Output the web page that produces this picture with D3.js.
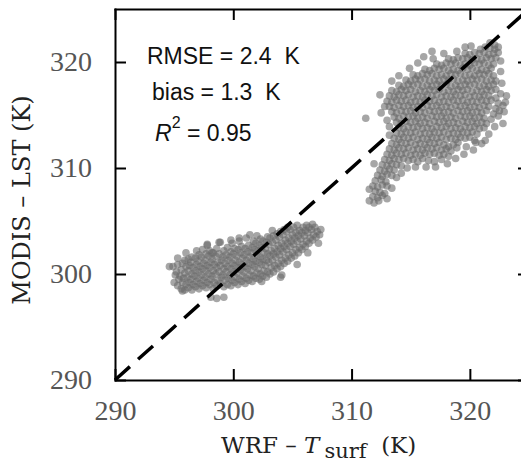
<!DOCTYPE html>
<html>
<head>
<meta charset="utf-8">
<script src="https://cdn.jsdelivr.net/npm/d3@7"></script>
<style>
  body { margin: 0; background: #fff; }
  svg { display: block; }
</style>
</head>
<body>
<div id="graph"></div>
<script>
const width = 521;
const height = 463;

// axis range (K) and ticks
const axisDomain = [290, 325];
const xTicks = [290, 300, 310, 320];
const yTicks = [290, 300, 310, 320];

// statistics printed in the corner
const statLines = [
  { label: "RMSE", value: "2.4  K" },
  { label: "bias", value: "1.3  K" }
];
const r2Value = "0.95";

// [WRF Tsurf, MODIS LST] points, lower (cool) group
const coolPoints = [
  [294.6,300.7],[295.0,299.2],[295.1,299.9],[294.9,300.7],
  [295.3,298.9],[295.4,299.5],[295.2,300.2],[295.3,300.9],
  [295.6,298.6],[295.7,299.2],[295.5,299.8],[295.6,300.4],[295.7,301.0],
  [295.9,298.5],[296.0,299.0],[295.8,299.6],[295.9,300.1],[296.0,300.7],[295.9,301.3],
  [296.2,298.7],[296.3,299.2],[296.1,299.7],[296.2,300.3],[296.3,300.8],[296.2,301.4],
  [296.5,298.5],[296.6,299.0],[296.4,299.5],[296.5,300.0],[296.6,300.6],[296.4,301.1],[296.5,301.6],
  [296.8,298.8],[296.9,299.3],[296.7,299.8],[296.8,300.3],[296.9,300.9],[296.8,301.5],
  [297.1,298.6],[297.2,299.1],[297.0,299.6],[297.1,300.2],[297.2,300.7],[297.0,301.2],[297.1,301.8],
  [297.4,298.9],[297.5,299.4],[297.3,299.9],[297.4,300.5],[297.5,301.0],[297.3,301.6],[297.4,302.3],
  [297.7,298.7],[297.8,299.2],[297.6,299.7],[297.7,300.3],[297.8,300.8],[297.6,301.3],[297.7,301.9],[297.8,302.8],
  [298.0,299.0],[298.1,299.5],[297.9,300.0],[298.0,300.6],[298.1,301.1],[297.9,301.7],[298.0,302.2],
  [298.3,298.6],[298.4,299.2],[298.2,299.8],[298.3,300.3],[298.4,300.9],[298.2,301.4],[298.3,302.0],
  [298.6,297.7],[298.6,298.9],[298.7,299.4],[298.5,300.0],[298.6,300.6],[298.7,301.1],[298.5,301.7],[298.6,302.4],
  [298.9,299.1],[299.0,299.7],[298.8,300.2],[298.9,300.8],[299.0,301.3],[298.8,301.9],[298.9,303.0],
  [299.2,297.8],[299.2,298.8],[299.3,299.4],[299.1,299.9],[299.2,300.5],[299.3,301.0],[299.1,301.6],[299.2,302.2],
  [299.5,299.0],[299.6,299.6],[299.4,300.2],[299.5,300.7],[299.6,301.3],[299.4,301.8],[299.5,302.5],
  [299.8,298.9],[299.9,299.4],[299.7,299.9],[299.8,300.5],[299.9,301.0],[299.7,301.6],[299.8,302.1],[299.9,302.9],
  [300.1,299.2],[300.2,299.7],[300.0,300.2],[300.1,300.8],[300.2,301.3],[300.0,301.9],[300.1,302.4],
  [300.4,299.0],[300.5,299.5],[300.3,300.1],[300.4,300.6],[300.5,301.1],[300.3,301.7],[300.4,302.3],[300.5,303.1],
  [300.7,299.3],[300.8,299.8],[300.6,300.4],[300.7,300.9],[300.8,301.5],[300.6,302.0],[300.7,302.6],
  [301.0,299.1],[301.1,299.6],[300.9,300.2],[301.0,300.7],[301.1,301.3],[300.9,301.8],[301.0,302.4],[301.1,303.4],
  [301.3,299.4],[301.4,299.9],[301.2,300.5],[301.3,301.0],[301.4,301.6],[301.2,302.1],[301.3,302.7],
  [301.6,299.3],[301.7,299.8],[301.5,300.3],[301.6,300.9],[301.7,301.4],[301.5,302.0],[301.6,302.5],[301.7,303.1],
  [301.9,299.6],[302.0,300.1],[301.8,300.7],[301.9,301.2],[302.0,301.8],[301.8,302.3],[301.9,302.9],
  [302.2,299.5],[302.3,300.0],[302.1,300.5],[302.2,301.1],[302.3,301.6],[302.1,302.2],[302.2,302.7],[302.3,303.3],
  [302.5,299.8],[302.6,300.3],[302.4,300.9],[302.5,301.4],[302.6,302.0],[302.4,302.5],[302.5,303.1],
  [302.8,299.7],[302.9,300.2],[302.7,300.8],[302.8,301.3],[302.9,301.9],[302.7,302.4],[302.8,303.0],[302.9,303.5],
  [303.1,300.0],[303.2,300.6],[303.0,301.1],[303.1,301.7],[303.2,302.2],[303.0,302.8],[303.1,303.4],
  [303.4,300.2],[303.5,300.8],[303.3,301.3],[303.4,301.9],[303.5,302.4],[303.3,303.0],[303.4,303.6],
  [303.7,300.5],[303.8,301.0],[303.6,301.6],[303.7,302.1],[303.8,302.7],[303.6,303.2],[303.7,303.8],
  [304.1,299.9],[304.0,300.7],[304.1,301.3],[303.9,301.8],[304.0,302.4],[304.1,302.9],[303.9,303.5],[304.0,304.0],
  [304.3,301.0],[304.4,301.5],[304.2,302.1],[304.3,302.6],[304.4,303.2],[304.2,303.7],[304.3,304.2],
  [304.6,301.2],[304.7,301.8],[304.5,302.3],[304.6,302.9],[304.7,303.4],[304.5,304.0],[304.6,304.4],
  [304.9,301.5],[305.0,302.0],[304.8,302.6],[304.9,303.1],[305.0,303.7],[304.8,304.2],
  [305.2,301.7],[305.3,302.3],[305.1,302.8],[305.2,303.4],[305.3,303.9],[305.1,304.4],
  [305.5,302.0],[305.6,302.5],[305.4,303.1],[305.5,303.6],[305.6,304.1],[305.4,304.6],
  [305.8,302.3],[305.9,302.8],[305.7,303.3],[305.8,303.9],[305.9,304.4],
  [306.1,302.6],[306.2,303.1],[306.0,303.6],[306.1,304.1],[306.2,304.6],
  [306.4,302.9],[306.5,303.4],[306.3,303.9],[306.4,304.4],
  [306.7,303.2],[306.8,303.7],[306.6,304.2],[306.7,304.7],
  [307.0,303.5],[307.1,304.0],[306.9,304.4],
  [307.3,303.7],[307.4,304.2],
  // loose points round the edge of the band
  [295.3,301.5],[296.0,302.0],[296.9,302.2],[297.8,302.7],[298.2,302.0],[298.8,303.0],
  [299.8,303.2],[300.5,303.4],[301.4,303.7],[295.7,298.4],[298.1,297.8],[302.4,299.3],
  [304.0,299.7],[305.4,300.9],[306.3,302.0],[307.2,302.9],[303.3,304.1],[302.0,303.6]
];

// [WRF Tsurf, MODIS LST] points, upper (warm) group
const warmPoints = [
  [321.7,321.8],[322.1,321.6],
  [320.9,321.2],[321.3,321.4],[321.7,321.3],[322.1,321.2],[322.4,321.4],
  [316.1,320.5],[319.6,320.8],[320.0,320.7],[320.4,320.9],[320.8,320.8],[321.2,320.9],[321.6,320.7],[322.0,320.8],[322.4,320.9],
  [318.2,320.3],[318.6,320.2],[319.0,320.4],[319.4,320.3],[319.8,320.4],[320.2,320.2],[320.6,320.3],[321.0,320.2],[321.4,320.4],[321.8,320.3],[322.2,320.4],
  [317.2,319.8],[317.6,319.7],[318.0,319.9],[318.4,319.8],[318.8,319.9],[319.2,319.7],[319.6,319.8],[320.0,319.7],[320.4,319.9],[320.8,319.8],[321.2,319.9],[321.6,319.7],[322.0,319.8],
  [316.2,319.3],[316.6,319.2],[317.0,319.4],[317.4,319.3],[317.8,319.4],[318.2,319.2],[318.6,319.3],[319.0,319.2],[319.4,319.4],[319.8,319.3],[320.2,319.4],[320.6,319.2],[321.0,319.3],[321.4,319.2],[321.8,319.4],
  [315.2,318.8],[315.6,318.7],[316.0,318.9],[316.4,318.8],[316.8,318.9],[317.2,318.7],[317.6,318.8],[318.0,318.7],[318.4,318.9],[318.8,318.8],[319.2,318.9],[319.6,318.7],[320.0,318.8],[320.4,318.7],[320.8,318.9],[321.2,318.8],[321.6,318.9],[322.0,318.7],
  [314.6,318.3],[315.0,318.2],[315.4,318.4],[315.8,318.3],[316.2,318.4],[316.6,318.2],[317.0,318.3],[317.4,318.2],[317.8,318.4],[318.2,318.3],[318.6,318.4],[319.0,318.2],[319.4,318.3],[319.8,318.2],[320.2,318.4],[320.6,318.3],[321.0,318.4],[321.4,318.2],[321.8,318.3],[322.2,318.2],
  [314.0,317.8],[314.4,317.7],[314.8,317.9],[315.2,317.8],[315.6,317.9],[316.0,317.7],[316.4,317.8],[316.8,317.7],[317.2,317.9],[317.6,317.8],[318.0,317.9],[318.4,317.7],[318.8,317.8],[319.2,317.7],[319.6,317.9],[320.0,317.8],[320.4,317.9],[320.8,317.7],[321.2,317.8],[321.6,317.7],[322.0,317.9],
  [313.4,317.3],[313.8,317.2],[314.2,317.4],[314.6,317.3],[315.0,317.4],[315.4,317.2],[315.8,317.3],[316.2,317.2],[316.6,317.4],[317.0,317.3],[317.4,317.4],[317.8,317.2],[318.2,317.3],[318.6,317.2],[319.0,317.4],[319.4,317.3],[319.8,317.4],[320.2,317.2],[320.6,317.3],[321.0,317.2],[321.4,317.4],[321.8,317.3],[322.2,317.4],
  [313.2,316.8],[313.6,316.7],[314.0,316.9],[314.4,316.8],[314.8,316.9],[315.2,316.7],[315.6,316.8],[316.0,316.7],[316.4,316.9],[316.8,316.8],[317.2,316.9],[317.6,316.7],[318.0,316.8],[318.4,316.7],[318.8,316.9],[319.2,316.8],[319.6,316.9],[320.0,316.7],[320.4,316.8],[320.8,316.7],[321.2,316.9],[321.6,316.8],[322.2,316.6],[322.6,317.0],
  [313.0,316.3],[313.4,316.2],[313.8,316.4],[314.2,316.3],[314.6,316.4],[315.0,316.2],[315.4,316.3],[315.8,316.2],[316.2,316.4],[316.6,316.3],[317.0,316.4],[317.4,316.2],[317.8,316.3],[318.2,316.2],[318.6,316.4],[319.0,316.3],[319.4,316.4],[319.8,316.2],[320.2,316.3],[320.6,316.2],[321.0,316.4],[321.4,316.3],[321.8,316.4],[322.4,316.1],[323.0,316.2],
  [312.8,315.8],[313.2,315.8],[313.6,315.7],[314.0,315.9],[314.4,315.8],[314.8,315.9],[315.2,315.7],[315.6,315.8],[316.0,315.7],[316.4,315.9],[316.8,315.8],[317.2,315.9],[317.6,315.7],[318.0,315.8],[318.4,315.7],[318.8,315.9],[319.2,315.8],[319.6,315.9],[320.0,315.7],[320.4,315.8],[320.8,315.7],[321.2,315.9],[321.6,315.8],[322.2,315.6],[322.8,315.9],
  [313.4,315.3],[313.8,315.2],[314.2,315.4],[314.6,315.3],[315.0,315.4],[315.4,315.2],[315.8,315.3],[316.2,315.2],[316.6,315.4],[317.0,315.3],[317.4,315.4],[317.8,315.2],[318.2,315.3],[318.6,315.2],[319.0,315.4],[319.4,315.3],[319.8,315.4],[320.2,315.2],[320.6,315.3],[321.0,315.2],[321.4,315.4],[322.0,315.1],[322.5,315.4],
  [311.2,314.7],[313.6,314.8],[314.0,314.7],[314.4,314.9],[314.8,314.8],[315.2,314.9],[315.6,314.7],[316.0,314.8],[316.4,314.7],[316.8,314.9],[317.2,314.8],[317.6,314.9],[318.0,314.7],[318.4,314.8],[318.8,314.7],[319.2,314.9],[319.6,314.8],[320.0,314.9],[320.4,314.7],[320.8,314.8],[321.2,314.7],[321.8,314.6],[322.4,314.9],
  [313.8,314.3],[314.2,314.2],[314.6,314.4],[315.0,314.3],[315.4,314.4],[315.8,314.2],[316.2,314.3],[316.6,314.2],[317.0,314.4],[317.4,314.3],[317.8,314.4],[318.2,314.2],[318.6,314.3],[319.0,314.2],[319.4,314.4],[319.8,314.3],[320.2,314.4],[320.6,314.2],[321.0,314.3],[321.4,314.2],
  [314.0,313.8],[314.4,313.7],[314.8,313.9],[315.2,313.8],[315.6,313.9],[316.0,313.7],[316.4,313.8],[316.8,313.7],[317.2,313.9],[317.6,313.8],[318.0,313.9],[318.4,313.7],[318.8,313.8],[319.2,313.7],[319.6,313.9],[320.0,313.8],[320.4,313.9],[320.8,313.7],[321.2,313.8],
  [313.8,313.3],[314.2,313.2],[314.6,313.4],[315.0,313.3],[315.4,313.4],[315.8,313.2],[316.2,313.3],[316.6,313.2],[317.0,313.4],[317.4,313.3],[317.8,313.4],[318.2,313.2],[318.6,313.3],[319.0,313.2],[319.4,313.4],[319.8,313.3],[320.2,313.4],[320.6,313.2],
  [313.6,312.8],[314.0,312.7],[314.4,312.9],[314.8,312.8],[315.2,312.9],[315.6,312.7],[316.0,312.8],[316.4,312.7],[316.8,312.9],[317.2,312.8],[317.6,312.9],[318.0,312.7],[318.4,312.8],[318.8,312.7],[319.2,312.9],[319.6,312.8],[320.0,312.9],[320.4,312.6],
  [313.4,312.3],[313.8,312.2],[314.2,312.4],[314.6,312.3],[315.0,312.4],[315.4,312.2],[315.8,312.3],[316.2,312.2],[316.6,312.4],[317.0,312.3],[317.4,312.4],[317.8,312.2],[318.2,312.0],[318.6,312.2],[319.0,312.4],[319.7,312.0],[320.5,312.4],[321.0,312.3],
  [313.2,311.8],[313.6,311.7],[314.0,311.9],[314.4,311.8],[314.8,311.9],[315.2,311.7],[315.6,311.8],[316.0,311.7],[316.4,311.9],[316.8,311.8],[317.2,311.9],[317.6,311.7],[318.0,311.8],[318.4,311.6],[318.9,311.9],
  [313.0,311.3],[313.4,311.2],[313.8,311.4],[314.2,311.3],[314.6,311.4],[315.0,311.2],[315.4,311.3],[315.8,311.2],[316.2,311.4],[316.6,311.3],[317.0,311.4],[317.4,311.2],[317.8,311.3],[318.2,311.1],
  [312.8,310.8],[313.2,310.7],[313.6,310.9],[314.0,310.8],[314.4,310.9],[314.8,310.7],[315.2,310.8],[315.6,310.6],[316.0,310.9],[316.5,310.7],[317.0,310.6],[317.6,310.8],
  [312.6,310.3],[313.0,310.2],[313.4,310.4],[313.8,310.3],[314.2,310.2],[317.1,310.1],
  [312.4,309.8],[312.8,309.7],[313.2,309.9],[313.6,309.8],[314.2,309.5],
  [312.2,309.3],[312.6,309.2],[313.0,309.4],[313.4,309.3],
  [312.0,308.8],[312.5,308.9],[312.9,308.7],[313.4,308.1],
  [311.8,308.3],[312.2,308.2],[312.6,308.4],[313.0,308.3],
  [312.0,307.8],[312.4,307.7],[312.8,307.6],
  [311.8,307.3],[312.2,307.2],[312.6,307.4],
  [311.9,306.7],[312.3,306.9],
  // loose points round the edge of the cloud
  [314.0,318.7],[314.9,319.4],[315.6,319.9],[316.9,320.3],[317.8,320.8],[318.9,321.0],
  [320.1,321.5],[312.4,316.9],[312.5,315.2],[313.0,314.5],[313.2,313.9],[313.2,313.1],
  [322.9,315.3],[323.1,316.8],[322.8,314.2],[322.1,313.9],[321.6,313.2],[321.3,312.6],
  [320.3,311.7],[319.5,311.3],[318.8,310.9],[318.1,310.4],[316.3,310.1],[315.4,310.1],
  [322.7,318.0],[322.6,319.1],[322.6,320.1],[311.5,308.0],[311.5,306.9],[313.0,307.1],
  [313.8,309.1],[314.7,310.0],[311.9,310.4],[313.4,318.2],[316.8,321.0],[319.6,321.4]
];

const svg = d3
  .select("#graph")
  .append("svg")
  .attr("width", width)
  .attr("height", height);

const x = d3.scaleLinear().domain(axisDomain).range([115, 529]);
const y = d3.scaleLinear().domain(axisDomain).range([380, 9]);

// scatter points
svg
  .append("g")
  .selectAll("circle")
  .data(coolPoints.concat(warmPoints))
  .enter()
  .append("circle")
  .attr("cx", d => x(d[0]))
  .attr("cy", d => y(d[1]))
  .attr("r", 3.8)
  .attr("fill", "#6a6a6a")
  .attr("fill-opacity", 0.6);

// 1:1 line
svg
  .append("line")
  .attr("x1", x(axisDomain[0]))
  .attr("y1", y(axisDomain[0]))
  .attr("x2", x(axisDomain[1]))
  .attr("y2", y(axisDomain[1]))
  .attr("stroke", "black")
  .attr("stroke-width", 3.5)
  .attr("stroke-dasharray", "20,11");

// frame with inward ticks
function styleAxis(g) {
  g.select(".domain").attr("stroke", "black").attr("stroke-width", 2).attr("stroke-linecap", "square");
  g.selectAll(".tick line").attr("stroke", "black").attr("stroke-width", 2);
  g.selectAll(".tick text")
    .attr("fill", "#555")
    .attr("font-family", "'Liberation Serif', 'Times New Roman', serif")
    .attr("font-size", 28);
}

svg.append("g")
  .attr("transform", "translate(0," + y(axisDomain[0]) + ")")
  .call(d3.axisBottom(x).tickValues(xTicks).tickSizeInner(-11).tickSizeOuter(0).tickPadding(20))
  .call(styleAxis);

svg.append("g")
  .attr("transform", "translate(" + x(axisDomain[0]) + ",0)")
  .call(d3.axisLeft(y).tickValues(yTicks).tickSizeInner(-11).tickSizeOuter(0).tickPadding(23))
  .call(styleAxis);

svg.append("g")
  .attr("transform", "translate(0," + y(axisDomain[1]) + ")")
  .call(d3.axisTop(x).tickValues(xTicks).tickSizeInner(-11).tickSizeOuter(0).tickFormat(""))
  .call(styleAxis);

svg.append("g")
  .attr("transform", "translate(" + x(axisDomain[1]) + ",0)")
  .call(d3.axisRight(y).tickValues(yTicks).tickSizeInner(-11).tickSizeOuter(0).tickFormat(""))
  .call(styleAxis);

// axis titles
const xTitle = svg
  .append("text")
  .attr("x", 221)
  .attr("y", 453)
  .attr("fill", "#222")
  .attr("font-family", "'DejaVu Serif', serif")
  .attr("font-size", 23)
  .attr("xml:space", "preserve");
xTitle.append("tspan").text("WRF \u2013 ");
xTitle.append("tspan").attr("font-style", "italic").text("T");
xTitle.append("tspan").attr("font-size", 21).attr("dy", 5).attr("dx", 5).text("surf");
xTitle.append("tspan").attr("dy", -5).text("  (K)");

svg
  .append("text")
  .attr("transform", "translate(30,200) rotate(-90)")
  .attr("text-anchor", "middle")
  .attr("fill", "#222")
  .attr("font-family", "'DejaVu Serif', serif")
  .attr("font-size", 24)
  .text("MODIS \u2013 LST (K)");

// statistics
const statX = [147, 152];
const statY = [64, 100];
statLines.forEach(function(s, i) {
  svg
    .append("text")
    .attr("x", statX[i])
    .attr("y", statY[i])
    .attr("fill", "#111")
    .attr("font-family", "'Liberation Sans', Arial, sans-serif")
    .attr("font-size", 23)
    .attr("xml:space", "preserve")
    .text(s.label + " = " + s.value);
});

const r2 = svg
  .append("text")
  .attr("x", 155)
  .attr("y", 141)
  .attr("fill", "#111")
  .attr("font-family", "'Liberation Sans', Arial, sans-serif")
  .attr("font-size", 23)
  .attr("xml:space", "preserve");
r2.append("tspan").attr("font-style", "italic").text("R");
r2.append("tspan").attr("font-size", 16).attr("dy", -13).text("2");
r2.append("tspan").attr("dy", 13).text(" = " + r2Value);
</script>
</body>
</html>
